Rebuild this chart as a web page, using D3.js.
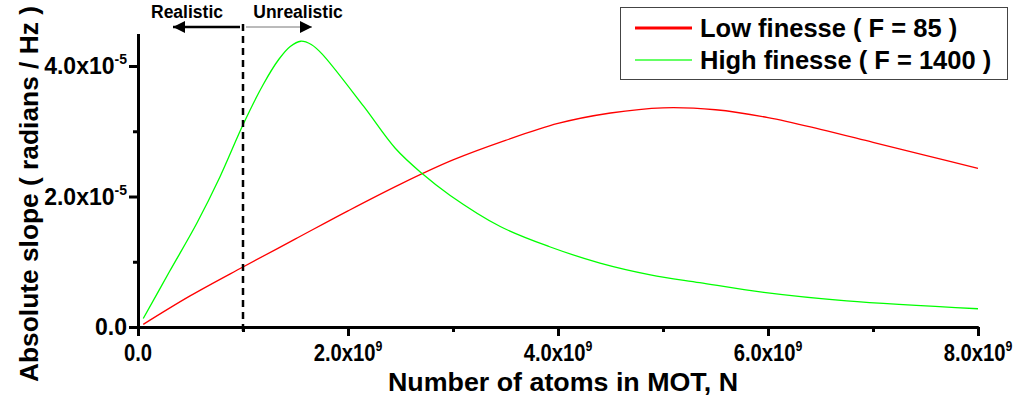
<!DOCTYPE html>
<html>
<head>
<meta charset="utf-8">
<script src="https://cdn.jsdelivr.net/npm/d3@7"></script>
<style>
  body { margin: 0; background: #fff; }
  text { font-family: "Liberation Sans", Arial, sans-serif; font-weight: bold; fill: #000; }
</style>
</head>
<body>
<div id="chart"></div>
<script>
// data (N in atoms, slope in radians / Hz)
var lowN     = [0.05e9, 0.5e9, 1.0e9, 1.5e9, 2.0e9, 2.5e9, 3.0e9, 3.5e9, 4.0e9, 4.5e9, 5.0e9, 5.5e9, 6.0e9, 6.5e9, 7.0e9, 7.5e9, 8.0e9];
var lowSlope = [0.04e-5, 0.48e-5, 0.92e-5, 1.35e-5, 1.78e-5, 2.19e-5, 2.56e-5, 2.86e-5, 3.12e-5, 3.28e-5, 3.36e-5, 3.33e-5, 3.21e-5, 3.03e-5, 2.83e-5, 2.63e-5, 2.43e-5];

var highN     = [0.05e9, 0.3e9, 0.56e9, 0.78e9, 1.0e9, 1.19e9, 1.34e9, 1.45e9, 1.55e9, 1.65e9, 1.75e9, 2.15e9, 2.45e9, 2.7e9, 2.97e9, 3.45e9, 3.92e9, 4.4e9, 4.88e9, 5.35e9, 5.96e9, 6.75e9, 8.0e9];
var highSlope = [0.13e-5, 0.85e-5, 1.59e-5, 2.30e-5, 3.10e-5, 3.71e-5, 4.10e-5, 4.30e-5, 4.38e-5, 4.33e-5, 4.19e-5, 3.38e-5, 2.74e-5, 2.36e-5, 2.02e-5, 1.54e-5, 1.23e-5, 0.98e-5, 0.80e-5, 0.68e-5, 0.53e-5, 0.40e-5, 0.28e-5];

var xMajor = [0, 2e9, 4e9, 6e9, 8e9];
var xMinor = [1e9, 3e9, 5e9, 7e9];
var xLabels = [["0.0", ""], ["2.0x10", "9"], ["4.0x10", "9"], ["6.0x10", "9"], ["8.0x10", "9"]];
var yMajor = [0, 2e-5, 4e-5];
var yMinor = [1e-5, 3e-5];
var yLabels = [["0.0", ""], ["2.0x10", "-5"], ["4.0x10", "-5"]];

var seriesNames = ["Low finesse ( F = 85 )", "High finesse ( F = 1400 )"];
var seriesColors = ["#ff0000", "#00ff00"];
var limitN = 1e9;

var svgWidth = 1020, svgHeight = 403;

var svg = d3.select("#chart").append("svg")
  .attr("width", svgWidth)
  .attr("height", svgHeight);

var x = d3.scaleLinear().domain([0, 8e9]).range([138, 978]);
var y = d3.scaleLinear().domain([0, 4.5e-5]).range([327, 33.4]);

// axes
function styleAxis(g) {
  g.selectAll("path, line").attr("stroke", "#000").attr("stroke-width", 3);
  g.selectAll("text").remove();
}

svg.append("g")
  .attr("transform", "translate(0,327)")
  .call(d3.axisBottom(x).tickValues(xMajor).tickSize(9).tickSizeOuter(0))
  .call(styleAxis);
svg.append("g")
  .attr("transform", "translate(0,327)")
  .call(d3.axisBottom(x).tickValues(xMinor).tickSize(5).tickSizeOuter(0))
  .call(styleAxis);
svg.append("g")
  .attr("transform", "translate(138,0)")
  .call(d3.axisLeft(y).tickValues(yMajor).tickSize(9).tickSizeOuter(0))
  .call(styleAxis);
svg.append("g")
  .attr("transform", "translate(138,0)")
  .call(d3.axisLeft(y).tickValues(yMinor).tickSize(5).tickSizeOuter(0))
  .call(styleAxis);

// tick labels
var xl = svg.selectAll(".xl").data(xMajor).enter().append("text")
  .attr("class", "xl")
  .attr("transform", d => `translate(${x(d)},361) scale(0.88,1)`)
  .attr("text-anchor", "middle")
  .style("font-size", "23px");
xl.append("tspan").text((d, i) => xLabels[i][0]);
xl.append("tspan").attr("dy", -10).style("font-size", "14px").text((d, i) => xLabels[i][1]);

var yl = svg.selectAll(".yl").data(yMajor).enter().append("text")
  .attr("class", "yl")
  .attr("x", 127)
  .attr("y", d => y(d) + 8)
  .attr("text-anchor", "end")
  .style("font-size", "23px");
yl.append("tspan").text((d, i) => yLabels[i][0]);
yl.append("tspan").attr("dy", -10).style("font-size", "14px").text((d, i) => yLabels[i][1]);

// axis titles
svg.append("text")
  .attr("x", 563).attr("y", 391)
  .attr("text-anchor", "middle")
  .attr("textLength", 350)
  .attr("lengthAdjust", "spacingAndGlyphs")
  .style("font-size", "26px")
  .text("Number of atoms in MOT, N");

svg.append("text")
  .attr("transform", "translate(38,194) rotate(-90)")
  .attr("text-anchor", "middle")
  .attr("textLength", 376)
  .attr("lengthAdjust", "spacingAndGlyphs")
  .style("font-size", "25px")
  .text("Absolute slope ( radians / Hz )");

// curves
var line = d3.line().x(d => x(d[0])).y(d => y(d[1])).curve(d3.curveCatmullRom.alpha(0.5));
svg.append("path")
  .datum(d3.zip(lowN, lowSlope))
  .attr("d", line)
  .attr("fill", "none")
  .attr("stroke", seriesColors[0])
  .attr("stroke-width", 1.3);
svg.append("path")
  .datum(d3.zip(highN, highSlope))
  .attr("d", line)
  .attr("fill", "none")
  .attr("stroke", seriesColors[1])
  .attr("stroke-width", 1.3);

// realistic / unrealistic marker
svg.append("line")
  .attr("x1", x(limitN)).attr("x2", x(limitN))
  .attr("y1", 24).attr("y2", 331)
  .attr("stroke", "#000")
  .attr("stroke-width", 2.5)
  .attr("stroke-dasharray", "7,5");

var defs = svg.append("defs");
defs.append("marker")
  .attr("id", "head")
  .attr("viewBox", "0 0 10 10")
  .attr("refX", 10).attr("refY", 5)
  .attr("markerUnits", "userSpaceOnUse")
  .attr("markerWidth", 14).attr("markerHeight", 12)
  .attr("orient", "auto")
  .append("path").attr("d", "M0,0L10,5L0,10Z").attr("fill", "#000");

svg.append("line")
  .attr("x1", x(limitN) - 3).attr("x2", 173)
  .attr("y1", 27).attr("y2", 27)
  .attr("stroke", "#000").attr("stroke-width", 2.5)
  .attr("marker-end", "url(#head)");
svg.append("line")
  .attr("x1", x(limitN) + 3).attr("x2", 312)
  .attr("y1", 27).attr("y2", 27)
  .attr("stroke", "#777").attr("stroke-width", 1)
  .attr("marker-end", "url(#head)");

svg.append("text")
  .attr("x", 187).attr("y", 18)
  .attr("text-anchor", "middle")
  .style("font-size", "17.5px")
  .text("Realistic");
svg.append("text")
  .attr("x", 298).attr("y", 18)
  .attr("text-anchor", "middle")
  .style("font-size", "17.5px")
  .text("Unrealistic");

// legend
var legend = svg.append("g");
legend.append("rect")
  .attr("x", 620.5).attr("y", 7.5)
  .attr("width", 387).attr("height", 72)
  .attr("fill", "#fff")
  .attr("stroke", "#444")
  .attr("stroke-width", 1);

var items = legend.selectAll(".item").data(seriesNames).enter().append("g")
  .attr("transform", (d, i) => `translate(0,${28 + i * 32})`);
items.append("line")
  .attr("x1", 635).attr("x2", 692)
  .attr("stroke", (d, i) => seriesColors[i])
  .attr("stroke-width", (d, i) => i === 0 ? 3 : 2)
  .attr("opacity", (d, i) => i === 0 ? 1 : 0.6);
items.append("text")
  .attr("x", 700).attr("y", 9)
  .style("font-size", "25.5px")
  .text(d => d);
</script>
</body>
</html>
